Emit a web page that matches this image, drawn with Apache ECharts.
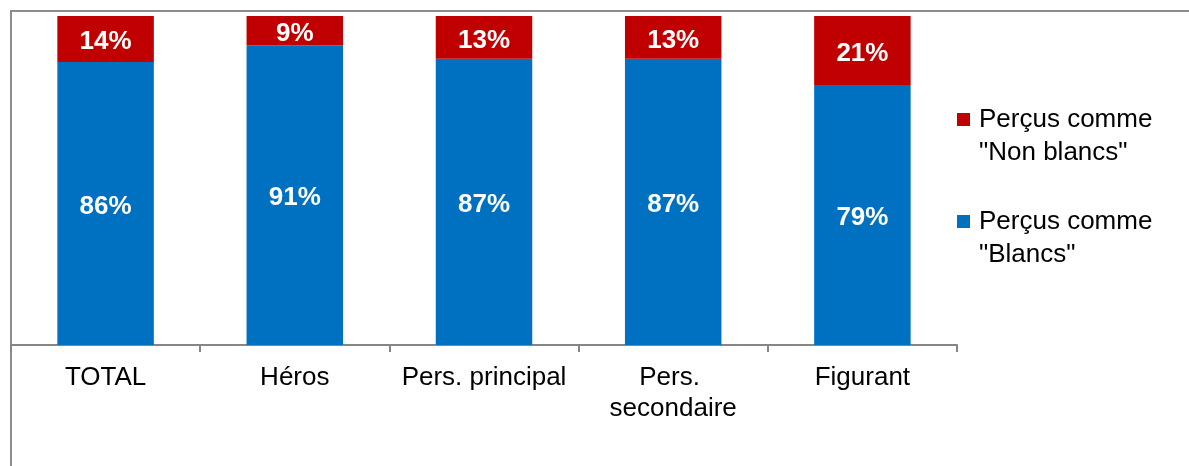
<!DOCTYPE html>
<html>
<head>
<meta charset="utf-8">
<script src="https://cdn.jsdelivr.net/npm/echarts@6/dist/echarts.min.js"></script>
<style>
  html, body { margin: 0; padding: 0; background: #fff; }
  #chart { width: 1189px; height: 466px; }
</style>
</head>
<body>
<div id="chart"></div>
<script>
// Share of characters by perceived ethnicity, per role type (percent)
const categories = ['TOTAL', 'Héros', 'Pers. principal', 'Pers. secondaire', 'Figurant'];
const blancs = [86, 91, 87, 87, 79];
const nonBlancs = [14, 9, 13, 13, 21];
const seriesNames = ['Perçus comme "Blancs"', 'Perçus comme "Non blancs"'];

const FONT = '"Liberation Sans", Arial, sans-serif';

const valueLabel = {
  show: true,
  position: 'inside',
  offset: [0, 3],
  formatter: '{c}%',
  color: '#fff',
  fontFamily: FONT,
  fontWeight: 'bold',
  fontSize: 26
};

const chart = echarts.init(document.getElementById('chart'), null, { renderer: 'canvas' });

chart.setOption({
  animation: false,
  backgroundColor: '#fff',
  graphic: [{
    type: 'rect',
    shape: { x: 11, y: 11, width: 1400, height: 800 },
    style: { fill: 'none', stroke: '#8c8c8c', lineWidth: 2 },
    silent: true,
    z: 0
  }],
  grid: { left: 11, right: 232, top: 16, bottom: 121 },
  legend: {
    orient: 'vertical',
    left: 952,
    top: 65,
    data: [seriesNames[1], seriesNames[0]],
    icon: 'rect',
    itemWidth: 13,
    itemHeight: 13,
    itemGap: 3,
    // leading blank line keeps the marker level with the first text line
    formatter: name => '\n' + name.replace(' "', '\n"'),
    textStyle: {
      fontFamily: FONT,
      fontSize: 26,
      lineHeight: 33,
      color: '#000',
      padding: [0, 0, 0, 4]
    }
  },
  xAxis: {
    type: 'category',
    data: categories,
    axisLine: { lineStyle: { color: '#868686', width: 2 } },
    axisTick: { show: true, length: 7, lineStyle: { color: '#868686', width: 2 } },
    axisLabel: {
      fontFamily: FONT,
      fontSize: 26,
      lineHeight: 31,
      color: '#000',
      margin: 17,
      width: 180,
      overflow: 'break',
      interval: 0
    }
  },
  yAxis: {
    type: 'value',
    min: 0,
    max: 100,
    show: false,
    splitLine: { show: false }
  },
  series: [
    {
      name: seriesNames[0],
      type: 'bar',
      stack: 'total',
      data: blancs,
      barWidth: '51%',
      itemStyle: { color: '#0070C0' },
      label: valueLabel
    },
    {
      name: seriesNames[1],
      type: 'bar',
      stack: 'total',
      data: nonBlancs,
      barWidth: '51%',
      itemStyle: { color: '#C00000' },
      label: valueLabel
    }
  ]
});
</script>
</body>
</html>
